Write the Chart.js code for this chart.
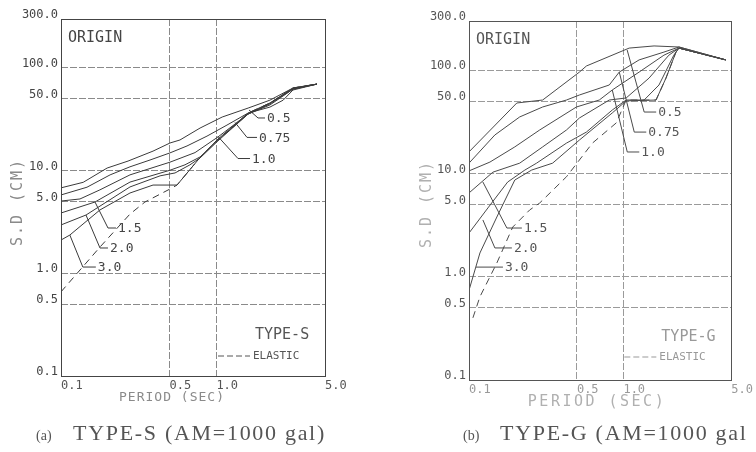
<!DOCTYPE html>
<html>
<head>
<meta charset="utf-8">
<script src="https://cdn.jsdelivr.net/npm/chart.js@4.4.1/dist/chart.umd.min.js"></script>
<style>
  html, body { margin: 0; padding: 0; background: #fff; }
  #wrap { position: relative; width: 756px; height: 452px; overflow: hidden; }
  canvas { position: absolute; top: 0; }
  #chartS { left: 0; }
  #chartG { left: 378px; }
</style>
</head>
<body>
<div id="wrap">
  <canvas id="chartS" width="378" height="452" style="width:378px;height:452px"></canvas>
  <canvas id="chartG" width="378" height="452" style="width:378px;height:452px"></canvas>
</div>
<script>
// --- DATA (period in sec, S.D in cm) ---
const periodTicks = [0.1, 0.5, 1.0, 5.0];
const sdTicks = [0.1, 0.5, 1, 5, 10, 50, 100, 300];
const ratioNames = ['0.5', '0.75', '1.0', '1.5', '2.0', '3.0'];

// TYPE-S
const typeS_05 = [[0.1,6.8],[0.139,7.7],[0.198,10.6],[0.27,12.4],[0.391,15.5],[0.503,18.6],[0.583,19.9],[0.785,26],[1.09,33.3],[1.6,40.7],[2.21,48.6],[3.11,63.8],[4.44,69.7]];
const typeS_075 = [[0.1,5.8],[0.147,6.9],[0.207,9.1],[0.278,10.9],[0.374,12.7],[0.503,14.9],[0.647,17.4],[0.87,21.7],[1.17,27.8],[1.6,36.4],[2.21,41.6],[2.69,48.6],[3.11,61],[4.44,69.7]];
const typeS_10 = [[0.1,5.06],[0.1325,5.3],[0.178,6.5],[0.278,9.1],[0.503,12.1],[0.729,15],[1.024,21.3],[1.6,35.6],[2.21,43.6],[3.11,62.2],[4.44,69.7]];
const typeS_15 = [[0.1,3.87],[0.1655,4.95],[0.278,7.74],[0.503,10.1],[0.628,11.4],[0.785,13.6],[1.024,19.9],[1.6,35.6],[2.21,44.6],[3.11,62.2],[4.44,69.7]];
const typeS_20 = [[0.1,2.96],[0.145,3.7],[0.278,6.94],[0.434,8.9],[0.542,9.5],[0.676,11.4],[0.785,13.3],[1.024,19.5],[1.6,35.6],[2.21,45.5],[3.11,63],[4.44,69.7]];
const typeS_30 = [[0.1,2.11],[0.114,2.36],[0.178,4.14],[0.278,6.06],[0.391,7.24],[0.558,7.24],[0.761,12.7],[1.009,19.9],[1.6,36.4],[2.21,45.5],[3.11,63.8],[4.44,69.7]];
const typeS_elastic = [[0.1,0.66],[0.178,1.8],[0.278,3.78],[0.347,4.95],[0.503,6.63],[0.558,7.24],[0.761,12.7],[1.009,19.9],[1.28,26.6],[1.6,36.4],[2.21,45.5],[3.11,63.8],[4.44,69.7]];

// TYPE-G
const typeG_05 = [[0.1,16.2],[0.204,48.2],[0.3,51.5],[0.519,96],[0.576,110],[1.09,164],[1.58,172],[2.29,168],[4.6,126]];
const typeG_075 = [[0.1,12.6],[0.147,23.6],[0.213,35.3],[0.3,44.1],[0.428,51.5],[0.519,57.6],[0.81,72],[0.94,96],[1.264,126],[1.83,150],[2.29,168],[4.6,126]];
const typeG_10 = [[0.1,10.6],[0.1366,12.9],[0.198,18.1],[0.287,26.4],[0.4965,44.1],[0.698,51.5],[0.847,64.4],[1.264,96],[1.83,140],[2.29,164],[4.6,126]];
const typeG_15 = [[0.1,6.48],[0.1428,10.3],[0.213,12.6],[0.3,18.1],[0.428,26.4],[0.519,34.5],[0.81,51.5],[1.042,53.9],[1.466,84],[1.97,140],[2.29,164],[4.6,126]];
const typeG_20 = [[0.1,2.65],[0.1326,4.64],[0.178,8.27],[0.23,10.8],[0.274,12.6],[0.428,19.7],[0.576,25.2],[0.847,41.2],[1.042,51.5],[1.362,51.5],[1.7,72],[2.12,140],[2.29,164],[4.6,126]];
const typeG_30 = [[0.1,0.74],[0.1177,1.70],[0.1515,3.79],[0.198,8.65],[0.2546,10.8],[0.348,12.6],[0.519,21.1],[0.847,38.6],[1.042,50.5],[1.627,51.5],[1.887,84],[2.19,150],[2.29,164],[4.6,126]];
const typeG_elastic = [[0.106,0.40],[0.1177,0.64],[0.1515,1.36],[0.192,3.03],[0.247,4.43],[0.287,5.18],[0.428,9.3],[0.63,19.7],[0.899,30.9],[1.042,51.5],[1.627,51.5],[1.887,84],[2.19,150],[2.29,164],[4.6,126]];

// leader lines: anchor on a curve (data coords), then bend offset and run in px
const leadersS = [
    { at: [1.622, 39], bend: [9, 8], run: 7 },
    { at: [1.318, 29.5], bend: [12, 15], run: 10 },
    { at: [1.024, 21.5], bend: [20, 22], run: 12 },
    { at: [0.1655, 4.95], bend: [13, 26], run: 8 },
    { at: [0.1448, 3.7], bend: [14, 33], run: 8 },
    { at: [0.114, 2.36], bend: [13, 32], run: 13 }
];
const leadersG = [
    { at: [1.058, 157], bend: [17, 62], run: 12 },
    { at: [0.94, 96], bend: [15, 60], run: 12 },
    { at: [0.847, 64.4], bend: [15, 62], run: 12 },
    { at: [0.123, 8.27], bend: [24, 46], run: 15 },
    { at: [0.123, 3.55], bend: [12, 28], run: 17 },
    { at: [0.1109, 1.24], bend: [0, 0], run: 27 }
];

const MONO = '"DejaVu Sans Mono", monospace';
const SERIF = '"Liberation Serif", "DejaVu Serif", serif';

const toPts = arr => arr.map(p => ({ x: p[0], y: p[1] }));

// --- OVERLAY: frame, labels, titles, caption ---
const overlay = {
    id: 'overlay',
    afterDraw(chart, args, o) {
        const { ctx, chartArea: a, scales: { x, y } } = chart;
        ctx.save();

        // frame
        ctx.strokeStyle = o.frame;
        ctx.lineWidth = 1;
        ctx.setLineDash([]);
        ctx.strokeRect(Math.round(a.left) + 0.5, Math.round(a.top) + 0.5, Math.round(a.right - a.left), Math.round(a.bottom - a.top));

        ctx.fillStyle = o.ink;
        ctx.textBaseline = 'middle';
        ctx.textAlign = 'left';
        ctx.font = '15px ' + MONO;
        ctx.fillText('ORIGIN', a.left + 7, a.top + 19);

        // ratio labels with leaders
        ctx.strokeStyle = o.line;
        ctx.font = '13px ' + MONO;
        o.leaders.forEach((l, i) => {
            const px = x.getPixelForValue(l.at[0]);
            const py = y.getPixelForValue(l.at[1]);
            const bx = px + l.bend[0], by = py + l.bend[1];
            ctx.beginPath();
            ctx.moveTo(px, py);
            ctx.lineTo(bx, by);
            ctx.lineTo(bx + l.run, by);
            ctx.stroke();
            ctx.fillText(ratioNames[i], bx + l.run + 2, by + 1);
        });

        // type legend
        ctx.fillStyle = o.legendInk;
        ctx.font = '15px ' + MONO;
        ctx.fillText(o.typeName, a.right - 70, a.bottom - o.typeDy);
        ctx.strokeStyle = o.legendInk;
        ctx.setLineDash([6, 3]);
        ctx.beginPath();
        const ly = a.bottom - o.elasticDy;
        ctx.moveTo(a.right - 107, ly);
        ctx.lineTo(a.right - 75, ly);
        ctx.stroke();
        ctx.setLineDash([]);
        ctx.font = '11px ' + MONO;
        ctx.fillText('ELASTIC', a.right - 72, ly);

        // axis titles
        ctx.fillStyle = o.titleInk;
        ctx.font = '15px ' + MONO;
        ctx.letterSpacing = '2px';
        ctx.save();
        ctx.translate(o.yTitleX, a.top + 183);
        ctx.rotate(-Math.PI / 2);
        ctx.textAlign = 'center';
        ctx.fillText('S.D (CM)', 0, 0);
        ctx.restore();
        ctx.textAlign = 'center';
        ctx.font = o.xTitleFont + ' ' + MONO;
        ctx.letterSpacing = o.xTitleSpacing;
        ctx.fillText('PERIOD (SEC)', o.xTitleX, a.bottom + 22);

        // caption
        ctx.letterSpacing = '0px';
        ctx.textAlign = 'left';
        ctx.textBaseline = 'alphabetic';
        ctx.fillStyle = '#555';
        ctx.font = '14px ' + SERIF;
        ctx.fillText(o.capTag, o.capX, 440);
        ctx.font = '22px ' + SERIF;
        ctx.letterSpacing = '1.7px';
        ctx.fillText(o.capText, o.capX + 37, 440);
        ctx.restore();
    }
};

function buildChart(id, series, elastic, opt) {
    const datasets = series.map(s => ({
        data: toPts(s),
        borderColor: opt.line,
        borderWidth: 1,
        pointRadius: 0,
        tension: 0
    }));
    datasets.push({
        data: toPts(elastic),
        borderColor: opt.line,
        borderWidth: 1,
        borderDash: [7, 5],
        pointRadius: 0,
        tension: 0
    });

    return new Chart(document.getElementById(id), {
        type: 'line',
        data: { datasets },
        options: {
            responsive: false,
            animation: false,
            events: [],
            layout: { padding: { top: opt.top, right: opt.right, left: 0, bottom: 0 } },
            plugins: {
                legend: { display: false },
                tooltip: { enabled: false },
                overlay: opt
            },
            scales: {
                x: {
                    type: 'logarithmic',
                    min: 0.1, max: 5,
                    afterBuildTicks: s => { s.ticks = periodTicks.map(v => ({ value: v })); },
                    afterFit: s => { s.height = opt.xHeight; },
                    grid: { color: opt.grid, lineWidth: 1, drawTicks: false },
                    border: { display: false, dash: [7, 2] },
                    ticks: {
                        autoSkip: false, maxRotation: 0, align: 'start', padding: 3,
                        color: opt.xTickInk,
                        font: { family: MONO, size: 12 },
                        callback: v => Number(v).toFixed(1)
                    }
                },
                y: {
                    type: 'logarithmic',
                    min: 0.1, max: 300,
                    afterBuildTicks: s => { s.ticks = sdTicks.map(v => ({ value: v })); },
                    afterFit: s => { s.width = opt.yWidth; },
                    grid: { color: opt.grid, lineWidth: 1, drawTicks: false },
                    border: { display: false, dash: [7, 2] },
                    ticks: {
                        autoSkip: false, padding: 3, labelOffset: -4,
                        color: opt.yTickInk,
                        font: { family: MONO, size: 12 },
                        callback: v => Number(v).toFixed(1)
                    }
                }
            }
        },
        plugins: [overlay]
    });
}

buildChart('chartS',
    [typeS_05, typeS_075, typeS_10, typeS_15, typeS_20, typeS_30], typeS_elastic, {
    top: 19, right: 53, yWidth: 61, xHeight: 76,
    line: '#3a3a3a', grid: '#8a8a8a', frame: '#444',
    ink: '#444', legendInk: '#555', titleInk: '#8a8a8a',
    xTickInk: '#555', yTickInk: '#444',
    leaders: leadersS,
    typeName: 'TYPE-S', typeDy: 41, elasticDy: 20,
    yTitleX: 18, xTitleX: 172, xTitleFont: '13px', xTitleSpacing: '1px',
    capTag: '(a)', capText: 'TYPE-S (AM=1000 gal)', capX: 36
});

buildChart('chartG',
    [typeG_05, typeG_075, typeG_10, typeG_15, typeG_20, typeG_30], typeG_elastic, {
    top: 21, right: 23, yWidth: 91, xHeight: 72,
    line: '#4a4a4a', grid: '#9a9a9a', frame: '#555',
    ink: '#555', legendInk: '#999', titleInk: '#b0b0b0',
    xTickInk: '#999', yTickInk: '#555',
    leaders: leadersG,
    typeName: 'TYPE-G', typeDy: 43, elasticDy: 23,
    yTitleX: 49, xTitleX: 219, xTitleFont: '15px', xTitleSpacing: '2.5px',
    capTag: '(b)', capText: 'TYPE-G (AM=1000 gal', capX: 85
});
</script>
</body>
</html>
